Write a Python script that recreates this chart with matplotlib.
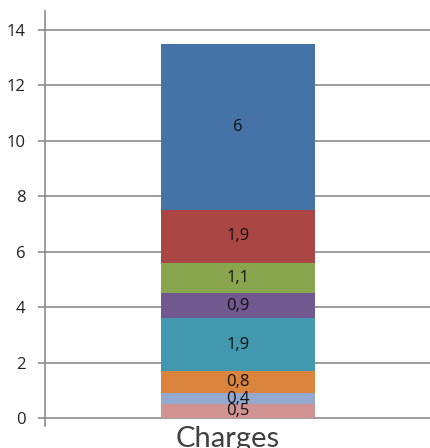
import numpy as np
import matplotlib
matplotlib.use("Agg")
import matplotlib.pyplot as plt
import matplotlib.transforms as mtransforms

# stacked segments, bottom to top
category = ["Charges"]
values = [0.5, 0.4, 0.8, 1.9, 0.9, 1.1, 1.9, 6]
colors = ['#D19392', '#93A9CF', '#DB843D', '#4198AF', '#71588F', '#89A54E', '#AA4643', '#4572A7']
yticks = [0, 2, 4, 6, 8, 10, 12, 14]

fig = plt.figure(figsize=(4.31, 4.48), dpi=100)
ax = fig.add_axes([45/431, (448-426.3)/448, 386/431, 415.7/448])

ax.set_xlim(-1.25, 1.25)
ax.set_ylim(-0.3, 14.7)

# grid lines (incl. the zero line)
ax.set_yticks(yticks)
ax.yaxis.grid(True, color='#8c8c8c', linewidth=1.2)
ax.set_axisbelow(True)

bottom = 0
for v, c in zip(values, colors):
    ax.bar(0, v, width=1.0, bottom=bottom, color=c, zorder=2)
    lab = f"{v:g}".replace('.', ',')
    ax.text(0, bottom + v/2, lab, ha='center', va='center', fontsize=12,
            family='Open Sans', color='#111111', zorder=3)
    bottom += v

for s in ['top', 'right', 'bottom']:
    ax.spines[s].set_visible(False)
ax.spines['left'].set_color('#8c8c8c')
ax.spines['left'].set_linewidth(1.2)

ax.tick_params(axis='y', direction='out', length=5, width=1.2, color='#8c8c8c',
               labelsize=12, labelcolor='#222222', pad=9)
for t in ax.get_yticklabels():
    t.set_family('Open Sans')

ax.set_xticks([0])
ax.set_xticklabels(category, fontsize=21, family='Lato', color='#404040')
ax.tick_params(axis='x', length=0, pad=0)
offset = mtransforms.ScaledTranslation(-10/100, 0, fig.dpi_scale_trans)
for t in ax.get_xticklabels():
    t.set_transform(t.get_transform() + offset)

fig.savefig('out.png', dpi=100)
